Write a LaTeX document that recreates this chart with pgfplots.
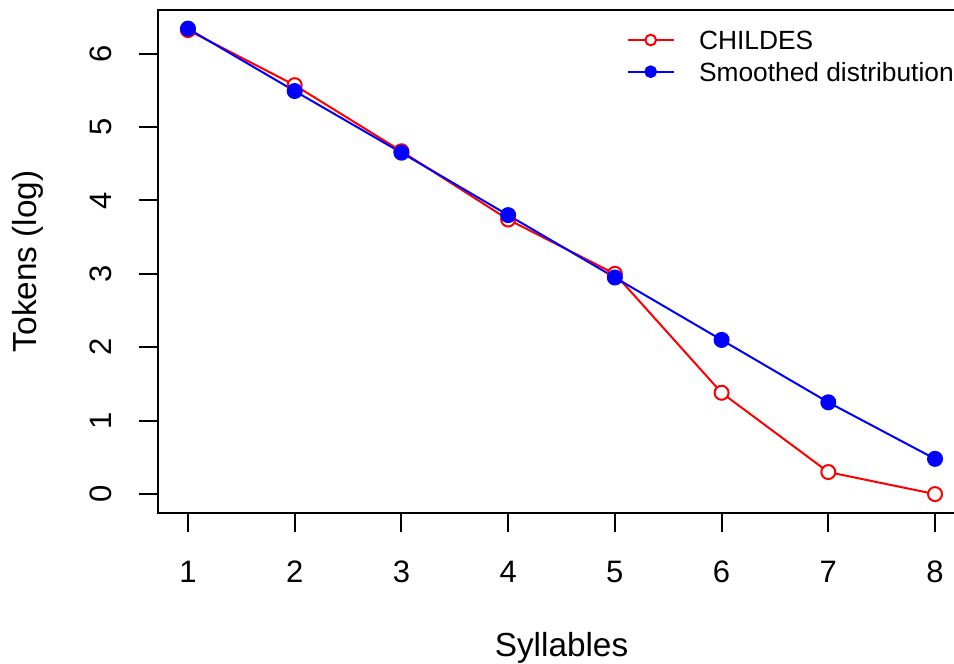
\documentclass[border=0pt]{standalone}
\usepackage{pgfplots}
\pgfplotsset{compat=1.18}
\usepackage{fontspec}
\setmainfont{Liberation Sans}

\begin{document}
\begin{tikzpicture}
% visible window of the figure
\useasboundingbox (-47.43pt,-45.09pt) rectangle (238.77pt,153.81pt);
\clip (-47.43pt,-45.09pt) rectangle (238.77pt,153.81pt);
\begin{axis}[
  scale only axis,
  width=242.04pt, height=150.81pt,
  xmin=0.72, xmax=8.28, ymin=-0.2536, ymax=6.5936,
  xtick={1,2,3,4,5,6,7,8}, ytick={0,1,2,3,4,5,6},
  xtick pos=left, ytick pos=left,
  tick align=outside, major tick length=5.8pt,
  axis line style={line width=0.6pt},
  every tick/.style={black, line width=0.6pt},
  /pgf/number format/assume math mode=true,
  tick label style={font=\fontsize{9.3pt}{11pt}\selectfont},
  label style={font=\fontsize{9.3pt}{11pt}\selectfont},
  xticklabel style={anchor=north, inner xsep=0pt, inner ysep=8.4pt},
  yticklabel style={rotate=90, anchor=south, inner xsep=0pt, inner ysep=7.9pt},
  xlabel={Syllables},
  ylabel={Tokens (log)},
  every axis x label/.style={at={(axis description cs:0.5,-0.2851)}, anchor=base, inner sep=0pt},
  every axis y label/.style={at={(axis description cs:-0.1508,0.5)}, rotate=90, anchor=base, inner sep=0pt},
  legend image code/.code={
    \draw[mark repeat=2, mark phase=2, mark size=1.6pt]
      plot coordinates {(0pt,0pt) (6.9pt,0pt) (13.8pt,0pt)};
  },
  legend style={
    draw=none, fill=none, inner sep=0pt, outer sep=0pt,
    at={(rel axis cs:0.5808,0.9088)}, anchor=west,
    font=\fontsize{7.9pt}{9pt}\selectfont,
    row sep=3.84pt, column sep=7.3pt,
    nodes={inner sep=0pt, text height=5.66pt, text depth=0pt},
  },
  legend cell align=left,
]
\addplot[red, line width=0.6pt, mark=*, mark size=2.1pt,
         mark options={fill=white, draw=red, line width=0.6pt}]
  coordinates {(1,6.32) (2,5.57) (3,4.67) (4,3.74) (5,3.00) (6,1.38) (7,0.30) (8,0.00)};
\addlegendentry{CHILDES}
\addplot[blue, line width=0.6pt, mark=*, mark size=2.1pt,
         mark options={fill=blue, draw=blue}]
  coordinates {(1,6.34) (2,5.49) (3,4.65) (4,3.80) (5,2.95) (6,2.10) (7,1.25) (8,0.48)};
\addlegendentry{Smoothed distribution}
\end{axis}
\end{tikzpicture}
\end{document}
